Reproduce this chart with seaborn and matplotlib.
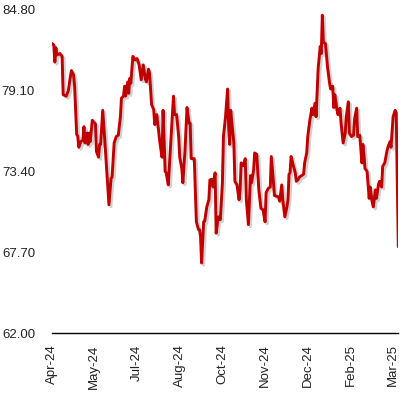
import matplotlib
matplotlib.use("Agg")
import matplotlib.pyplot as plt
import matplotlib.dates as mdates
import matplotlib.patheffects as pe
import numpy as np
import pandas as pd
import seaborn as sns

# ---- data ----
start_date = "2024-04-20"
day_offsets = [
    0, 2, 3, 4, 5, 8, 10, 11, 14, 16, 18, 19, 21, 22, 24, 25, 26, 28, 30, 31,
    32, 34, 35, 36, 37, 39, 42, 43, 45, 46, 47, 49, 51, 53, 55, 57, 58, 60, 62, 64,
    66, 67, 69, 70, 71, 73, 74, 75, 76, 78, 80, 82, 84, 86, 88, 90, 91, 93, 94, 96,
    98, 99, 101, 102, 104, 106, 107, 109, 110, 112, 114, 115, 117, 118, 120, 122, 123, 125, 126, 128,
    130, 132, 133, 134, 137, 139, 141, 142, 143, 144, 146, 147, 149, 151, 152, 154, 155, 157, 158, 160,
    162, 164, 165, 167, 169, 170, 171, 172, 173, 175, 176, 178, 180, 181, 182, 184, 186, 187, 189, 191,
    192, 194, 195, 197, 199, 201, 203, 205, 206, 208, 210, 211, 213, 214, 218, 219, 221, 222, 224, 226,
    227, 228, 229, 230, 232, 234, 235, 237, 238, 240, 242, 243, 245, 246, 248, 250, 251, 253, 254, 256,
    258, 259, 260, 261, 263, 265, 267, 268, 270, 271, 272, 274, 275, 277, 278, 280, 282, 283, 285, 286,
    288, 290, 291, 293, 294, 296, 298, 299, 300, 301, 303, 305, 306, 308, 309, 311, 312, 314, 315, 317,
    318, 320, 322, 323, 325, 326, 328, 330, 331, 333,
]
values = [
    82.42, 82.3, 81.1, 82.1, 81.6, 81.7, 81.5, 78.8, 78.7, 79.1, 80.1, 80.5, 80.2, 79.4, 76.0, 75.9, 75.1, 75.5, 75.6, 76.55,
    75.4, 76.1, 75.3, 76.1, 75.5, 77.0, 76.75, 74.8, 74.4, 75.3, 75.3, 77.7, 75.6, 73.3, 71.05, 72.9, 73.0, 75.4, 75.85, 75.95,
    77.25, 78.55, 78.7, 79.4, 78.7, 79.7, 78.9, 79.95, 79.6, 81.5, 81.25, 81.35, 80.9, 79.85, 80.9, 79.9, 79.7, 80.6, 80.3, 78.1,
    77.75, 76.7, 77.4, 76.7, 75.4, 74.4, 77.7, 73.4, 73.3, 72.45, 74.9, 76.1, 78.7, 77.4, 77.4, 75.85, 74.4, 73.6, 72.6, 74.8,
    77.9, 76.8, 76.8, 74.3, 74.3, 69.85, 69.3, 69.3, 68.8, 66.95, 69.85, 69.9, 70.9, 71.4, 72.8, 72.85, 72.3, 73.3, 69.05, 70.2,
    70.0, 72.6, 75.85, 77.25, 79.2, 76.55, 75.3, 77.7, 76.9, 75.4, 72.7, 72.45, 71.4, 72.1, 74.0, 73.8, 74.3, 71.4, 69.65, 73.1,
    72.6, 73.5, 74.7, 74.6, 72.1, 70.8, 70.7, 69.85, 71.9, 72.2, 72.3, 74.45, 72.7, 71.7, 71.6, 71.3, 72.45, 71.4, 70.2, 70.9,
    71.4, 73.2, 73.3, 74.45, 73.85, 73.3, 72.7, 72.85, 73.0, 73.1, 73.2, 74.0, 74.7, 75.85, 77.0, 77.85, 77.4, 78.2, 77.25, 80.65,
    82.2, 81.7, 84.4, 82.5, 82.4, 80.75, 79.6, 79.2, 79.4, 77.9, 78.8, 77.8, 77.4, 77.85, 76.8, 75.4, 76.1, 77.25, 78.3, 76.1,
    75.85, 75.95, 77.1, 77.85, 75.85, 75.95, 74.0, 75.3, 74.6, 73.6, 73.4, 71.5, 72.3, 71.2, 70.9, 72.1, 71.5, 72.5, 72.7, 72.3,
    73.75, 74.0, 74.8, 75.1, 75.5, 75.1, 77.25, 77.7, 77.5, 68.1,
]
y_ticks = [62.00, 67.70, 73.40, 79.10, 84.80]
x_tick_step_days = 41
n_x_ticks = 9
line_color = "#C00000"

# ---- build frame ----
t0 = pd.Timestamp(start_date)
df = pd.DataFrame({
    "date": t0 + pd.to_timedelta(day_offsets, unit="D"),
    "value": values,
})

sns.set_style("white")
plt.rcParams["font.family"] = ["Liberation Sans", "DejaVu Sans"]

fig = plt.figure(figsize=(4.08, 3.97), dpi=100)
ax = fig.add_axes([51.7 / 408, 1 - 333.3 / 397, (398.3 - 51.7) / 408, (333.3 - 9.5) / 397])

sns.lineplot(data=df, x="date", y="value", ax=ax, color=line_color, linewidth=2.1,
             path_effects=[pe.SimpleLineShadow(offset=(1.5, -1.5), shadow_color="black", alpha=0.18),
                           pe.Normal()])

ax.set_xlim(t0, t0 + pd.Timedelta(days=day_offsets[-1]))
ax.set_ylim(y_ticks[0], y_ticks[-1])
ax.set_yticks(y_ticks)
ax.set_yticklabels([f"{v:.2f}" for v in y_ticks])

xt = [t0 + pd.Timedelta(days=x_tick_step_days * k) for k in range(n_x_ticks)]
ax.set_xticks(xt)
ax.xaxis.set_major_formatter(mdates.DateFormatter("%b-%y"))
plt.setp(ax.get_xticklabels(), rotation=90, ha="center", va="top")

ax.set_xlabel("")
ax.set_ylabel("")
for s in ["top", "right", "left"]:
    ax.spines[s].set_visible(False)
ax.spines["bottom"].set_color("black")
ax.spines["bottom"].set_linewidth(1.0)

ax.tick_params(axis="x", direction="out", length=4, width=1, color="black",
               labelsize=9.5, pad=4, labelcolor="#222222")
ax.tick_params(axis="y", length=0, labelsize=9.5, pad=12, labelcolor="#222222")
ax.grid(False)

fig.savefig("out.png", dpi=100)
